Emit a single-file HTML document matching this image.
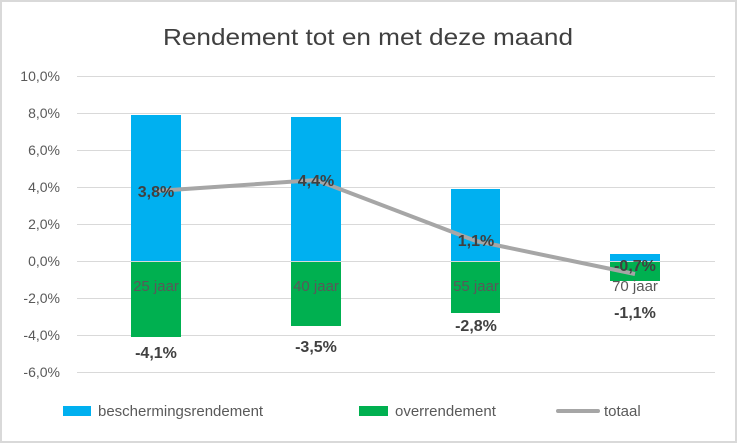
<!DOCTYPE html><html><head><style>body{margin:0;background:#fff}svg{display:block;font-family:"Liberation Sans",sans-serif}</style></head><body>
<svg width="737" height="443" viewBox="0 0 737 443">
<rect x="1" y="1" width="735" height="441" fill="#fff" stroke="#d9d9d9" stroke-width="2"/>
<text x="368" y="45" text-anchor="middle" font-size="23" fill="#404040" textLength="410" lengthAdjust="spacingAndGlyphs">Rendement tot en met deze maand</text>
<g stroke="#d9d9d9" stroke-width="1">
<line x1="77" x2="715" y1="76.5" y2="76.5"/><line x1="77" x2="715" y1="113.5" y2="113.5"/><line x1="77" x2="715" y1="150.5" y2="150.5"/><line x1="77" x2="715" y1="187.5" y2="187.5"/><line x1="77" x2="715" y1="224.5" y2="224.5"/><line x1="77" x2="715" y1="298.5" y2="298.5"/><line x1="77" x2="715" y1="335.5" y2="335.5"/><line x1="77" x2="715" y1="372.5" y2="372.5"/>
</g>
<g font-size="14" fill="#595959" text-anchor="end">
<text x="60" y="81">10,0%</text><text x="60" y="118">8,0%</text><text x="60" y="155">6,0%</text><text x="60" y="192">4,0%</text><text x="60" y="229">2,0%</text><text x="60" y="266">0,0%</text><text x="60" y="303">-2,0%</text><text x="60" y="340">-4,0%</text><text x="60" y="377">-6,0%</text>
</g>
<g fill="#00b0f0"><rect x="131" y="115" width="50" height="146"/><rect x="291" y="117" width="50" height="144"/><rect x="451" y="189" width="49" height="72"/><rect x="610" y="254" width="50" height="7"/></g>
<g fill="#00b050"><rect x="131" y="261" width="50" height="76"/><rect x="291" y="261" width="50" height="65"/><rect x="451" y="261" width="49" height="52"/><rect x="610" y="261" width="50" height="20"/></g>
<line x1="77" x2="715" y1="261.5" y2="261.5" stroke="#d9d9d9"/>
<g font-size="15" fill="#595959" text-anchor="middle">
<text x="156" y="291">25 jaar</text><text x="316" y="291">40 jaar</text><text x="476" y="291">55 jaar</text><text x="635" y="291">70 jaar</text></g>
<polyline points="156,191 316,180 476,241 635,274" fill="none" stroke="#a6a6a6" stroke-width="4" stroke-linejoin="round"/>
<g font-size="16" font-weight="bold" fill="#404040" text-anchor="middle">
<text x="156" y="197">3,8%</text><text x="316" y="186">4,4%</text><text x="476" y="246">1,1%</text><text x="635" y="271">-0,7%</text>
<text x="156" y="358">-4,1%</text><text x="316" y="352">-3,5%</text><text x="476" y="331">-2,8%</text><text x="635" y="318">-1,1%</text></g>
<rect x="63" y="406" width="28" height="10" fill="#00b0f0"/>
<text x="98" y="416" font-size="15" fill="#595959">beschermingsrendement</text>
<rect x="359" y="406" width="29" height="10" fill="#00b050"/>
<text x="395" y="416" font-size="15" fill="#595959">overrendement</text>
<line x1="558" x2="598" y1="411" y2="411" stroke="#a6a6a6" stroke-width="4" stroke-linecap="round"/>
<text x="604" y="416" font-size="15" fill="#595959">totaal</text>
</svg></body></html>
